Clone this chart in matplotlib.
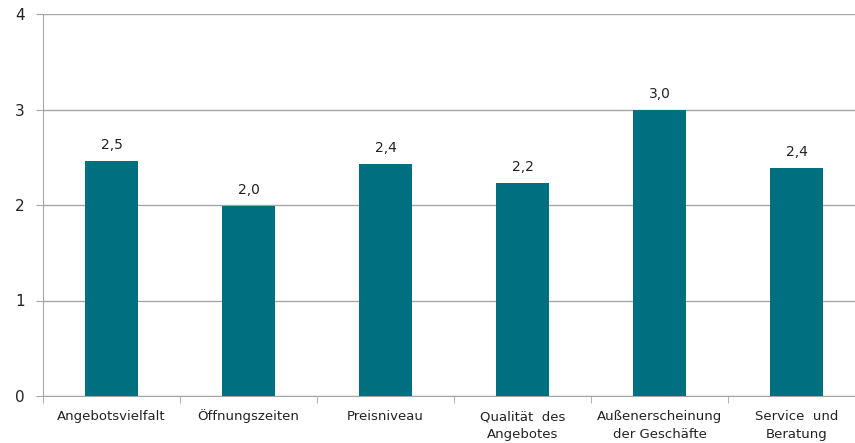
import numpy as np
import matplotlib.pyplot as plt

categories = ["Angebotsvielfalt", "Öffnungszeiten", "Preisniveau",
              "Qualität  des\nAngebotes", "Außenerscheinung\nder Geschäfte",
              "Service  und\nBeratung"]
values = [2.46, 1.99, 2.43, 2.23, 3.0, 2.39]
labels = ["2,5", "2,0", "2,4", "2,2", "3,0", "2,4"]

plt.rcParams['font.family'] = ['Liberation Sans Narrow', 'DejaVu Sans']

fig = plt.figure(figsize=(8.55, 4.43), dpi=100)
ax = fig.add_axes([43/855, 47/443, 822/855, 382/443])

x = np.arange(len(categories))
ax.bar(x, values, width=0.39, color="#006F80", zorder=3)
for xi, v, l in zip(x, values, labels):
    ax.text(xi, v + 0.09, l, ha="center", va="bottom", fontsize=10, color="#222222")

ax.set_ylim(0, 4)
ax.set_xlim(-0.5, len(categories) - 0.5)
ax.set_yticks([0, 1, 2, 3, 4])
ax.yaxis.grid(True, color="#A6A6A6", linewidth=1, zorder=0)
for s in ["top", "right"]:
    ax.spines[s].set_visible(False)
ax.spines["left"].set_color("#A6A6A6")
ax.spines["bottom"].set_color("#A6A6A6")
ax.tick_params(axis="y", length=5, color="#A6A6A6", labelsize=11, pad=8,
               labelcolor="#222222")

# category labels, drawn line by line on a common baseline
ax.set_xticks([])
for xi, cat in zip(x, categories):
    for i, line in enumerate(cat.split("\n")):
        ax.annotate(line, xy=(xi, 0), xycoords=("data", "axes fraction"),
                    xytext=(0, -24 - 18 * i), textcoords="offset pixels",
                    ha="center", va="baseline", fontsize=9.5, color="#222222",
                    annotation_clip=False)
ax.set_xticks(np.arange(len(categories) + 1) - 0.5, minor=True)
ax.tick_params(axis="x", which="minor", length=5, color="#A6A6A6")

fig.savefig("out.png", dpi=100)
